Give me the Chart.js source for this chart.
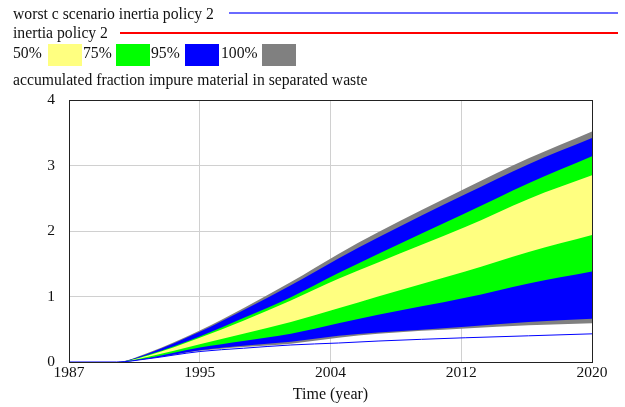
<!DOCTYPE html>
<html>
<head>
<meta charset="utf-8">
<script src="https://cdn.jsdelivr.net/npm/chart.js@4/dist/chart.umd.min.js"></script>
<style>
  html, body { margin: 0; padding: 0; background: #fff; }
  #wrap { position: relative; width: 625px; height: 407px; overflow: hidden; }
  canvas { position: absolute; left: 0; top: 0; }
  .lg { position: absolute; font-family: 'Liberation Serif', 'Times New Roman', serif; font-size: 15.7px; color: #111; white-space: nowrap; line-height: 18px; }
  .ln { position: absolute; }
  .bx { position: absolute; }
</style>
</head>
<body>
<div id="wrap">
  <canvas id="c" width="625" height="407"></canvas>
  <div class="lg" style="left:13px; top:5px;">worst c scenario inertia policy 2</div>
  <div class="ln" style="left:229px; top:12px; width:389px; height:2px; background:#6a6aff;"></div>
  <div class="lg" style="left:13px; top:24px;">inertia policy 2</div>
  <div class="ln" style="left:120px; top:32px; width:498px; height:2px; background:#ff0000;"></div>
  <div class="lg" style="left:13px; top:44px;">50%</div>
  <div class="bx" style="left:48px; top:44px; width:34px; height:22px; background:#ffff80;"></div>
  <div class="lg" style="left:83px; top:44px;">75%</div>
  <div class="bx" style="left:116px; top:44px; width:34px; height:22px; background:#00ff00;"></div>
  <div class="lg" style="left:151px; top:44px;">95%</div>
  <div class="bx" style="left:185px; top:44px; width:34px; height:22px; background:#0000ff;"></div>
  <div class="lg" style="left:221px; top:44px;">100%</div>
  <div class="bx" style="left:262px; top:44px; width:34px; height:22px; background:#808080;"></div>
  <div class="lg" style="left:13px; top:71px;">accumulated fraction impure material in separated waste</div>
</div>
<script>
// ---- data ----
const years      = [1987, 1990, 1992, 1995.25, 1998, 2001, 2004, 2006.5, 2012, 2016, 2020];
const band100Top = [0, 0, 0.14, 0.48, 0.82, 1.22, 1.65, 1.98, 2.65, 3.11, 3.52];
const band95Top  = [0, 0, 0.13, 0.46, 0.79, 1.17, 1.58, 1.90, 2.56, 3.02, 3.42];
const band75Top  = [0, 0, 0.11, 0.39, 0.67, 0.99, 1.36, 1.65, 2.27, 2.73, 3.14];
const band50Top  = [0, 0, 0.10, 0.37, 0.63, 0.94, 1.27, 1.52, 2.06, 2.49, 2.85];
const band50Bot  = [0, 0, 0.08, 0.27, 0.43, 0.61, 0.82, 1.00, 1.38, 1.68, 1.94];
const band75Bot  = [0, 0, 0.06, 0.22, 0.32, 0.43, 0.59, 0.72, 0.98, 1.20, 1.38];
const band95Bot  = [0, 0, 0.05, 0.18, 0.25, 0.31, 0.40, 0.45, 0.54, 0.61, 0.66];
const band100Bot = [0, 0, 0.05, 0.17, 0.23, 0.28, 0.37, 0.43, 0.51, 0.56, 0.59];
const worstCase  = [0, 0, 0.05, 0.16, 0.21, 0.26, 0.29, 0.32, 0.37, 0.40, 0.43];
const xTickValues = [1987, 1995.25, 2003.5, 2011.75, 2020];
const xTickLabels = ['1987', '1995', '2004', '2012', '2020'];
const yTickLabels = ['0', '1', '2', '3', '4'];

const pts = arr => years.map((y, i) => ({ x: y, y: arr[i] }));
const FONT = "'Liberation Serif', 'Times New Roman', serif";

function band(data, target, color, order) {
  return { data: pts(data), fill: target === null ? false : { target: target },
           backgroundColor: color, borderWidth: 0, pointRadius: 0,
           cubicInterpolationMode: 'monotone', order: order };
}

const frame = {
  id: 'frame',
  afterDraw(chart) {
    const a = chart.chartArea, ctx = chart.ctx;
    ctx.save();
    ctx.strokeStyle = '#222';
    ctx.lineWidth = 1;
    ctx.strokeRect(Math.round(a.left) + 0.5, Math.round(a.top) + 0.5,
                   Math.round(a.right - a.left), Math.round(a.bottom - a.top));
    ctx.restore();
  }
};

new Chart(document.getElementById('c'), {
  type: 'line',
  data: {
    datasets: [
      band(band100Top, 7, '#808080', 4),
      band(band95Top, 6, '#0000ff', 3),
      band(band75Top, 5, '#00ff00', 2),
      band(band50Top, 4, '#ffff80', 1),
      band(band50Bot, null, 'rgba(0,0,0,0)', 5),
      band(band75Bot, null, 'rgba(0,0,0,0)', 5),
      band(band95Bot, null, 'rgba(0,0,0,0)', 5),
      band(band100Bot, null, 'rgba(0,0,0,0)', 5),
      { data: pts(worstCase), borderColor: '#0000ff', borderWidth: 1, pointRadius: 0,
        fill: false, cubicInterpolationMode: 'monotone', order: 0 }
    ]
  },
  options: {
    responsive: false,
    animation: false,
    devicePixelRatio: 1,
    layout: { padding: { left: 0, top: 100, right: 33, bottom: 0 } },
    plugins: { legend: { display: false }, tooltip: { enabled: false } },
    scales: {
      x: {
        type: 'linear', min: 1987, max: 2020,
        afterBuildTicks: s => { s.ticks = xTickValues.map(v => ({ value: v })); },
        afterFit: s => { s.height = 45; },
        ticks: { callback: (v, i) => xTickLabels[i], color: '#111', padding: 2,
                 maxRotation: 0, autoSkip: false, font: { family: FONT, size: 15.5 } },
        grid: { color: '#d0d0d0', lineWidth: 1, drawTicks: false },
        border: { color: '#222' },
        title: { display: true, text: 'Time (year)', color: '#111', padding: { top: 0, bottom: 3 },
                 font: { family: FONT, size: 16 } }
      },
      y: {
        min: 0, max: 4,
        afterBuildTicks: s => { s.ticks = yTickLabels.map(v => ({ value: Number(v) })); },
        afterFit: s => { s.width = 69; },
        ticks: { callback: (v, i) => yTickLabels[i], color: '#111', padding: 14,
                 font: { family: FONT, size: 15.5 } },
        grid: { color: '#d0d0d0', lineWidth: 1, drawTicks: false },
        border: { color: '#222' }
      }
    }
  },
  plugins: [frame]
});
</script>
</body>
</html>
